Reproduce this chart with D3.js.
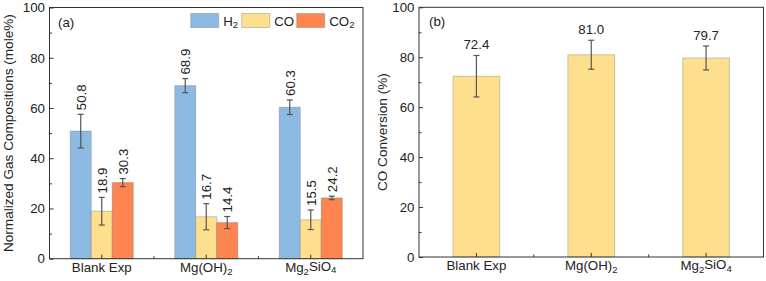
<!DOCTYPE html>
<html>
<head>
<meta charset="utf-8">
<script src="https://cdn.jsdelivr.net/npm/d3@7"></script>
<style>
  html, body { margin: 0; padding: 0; background: #fff; }
  svg { display: block; font-family: "Liberation Sans", Arial, sans-serif; }
</style>
</head>
<body>
<svg id="chart" width="766" height="281"></svg>
<script>
// ---- data ----
const categories = ["Blank Exp", "Mg(OH)2", "Mg2SiO4"];
const seriesNames = ["H2", "CO", "CO2"];
const h2 = [50.8, 68.9, 60.3];
const h2Err = [6.7, 2.8, 2.9];
const co = [18.9, 16.7, 15.5];
const coErr = [5.5, 5.2, 3.9];
const co2 = [30.3, 14.4, 24.2];
const co2Err = [1.6, 2.4, 0.7];
const conversion = [72.4, 81.0, 79.7];
const conversionErr = [8.3, 5.8, 4.8];
const yTicks = [0, 20, 40, 60, 80, 100];
const yMinorTicks = [10, 30, 50, 70, 90];

const colors = { H2: "#8dbae3", CO: "#fedf8d", CO2: "#fe854f" };
const barStroke = "rgba(110,110,110,0.35)";
const axisColor = "#333";
const errColor = "#555";

const svg = d3.select("#chart");

// write a chemical label with subscripts into a text selection
function chemText(sel, s, subSize) {
  const parts = s.match(/([A-Za-z()\s]+|\d+)/g) || [s];
  parts.forEach((p, i) => {
    const isSub = /^\d+$/.test(p) && i > 0;
    const t = sel.append("tspan").text(p);
    if (isSub) {
      t.attr("font-size", subSize).attr("dy", "0.3em");
    } else if (i > 0 && /^\d+$/.test(parts[i - 1])) {
      t.attr("dy", "-0.3em");
    }
  });
}

function drawFrame(g, x0, x1, yScale, xBand) {
  const yTop = yScale.range()[1], yBot = yScale.range()[0];
  const yAxis = d3.axisLeft(yScale).tickValues(yTicks).tickSize(-4).tickPadding(4.5);
  const ya = g.append("g").attr("transform", `translate(${x0},0)`).call(yAxis);
  ya.select(".domain").remove();
  ya.selectAll("line").attr("stroke", axisColor);
  ya.selectAll("text").attr("font-size", 13.3).attr("fill", "#222")
    .attr("font-family", "Liberation Sans, Arial, sans-serif");
  const ym = g.append("g").attr("transform", `translate(${x0},0)`)
    .call(d3.axisLeft(yScale).tickValues(yMinorTicks).tickSize(-2.5).tickFormat(""));
  ym.select(".domain").remove();
  ym.selectAll("line").attr("stroke", axisColor);

  const xa = g.append("g").attr("transform", `translate(0,${yBot})`)
    .call(d3.axisBottom(xBand).tickSize(-4).tickPadding(8).tickFormat(""));
  xa.select(".domain").remove();
  xa.selectAll("line").attr("stroke", axisColor);
  const bounds = categories.slice(1).map(c => xBand(c));
  g.append("g").selectAll("line").data(bounds).join("line")
    .attr("x1", d => d).attr("x2", d => d)
    .attr("y1", yBot).attr("y2", yBot - 2.5)
    .attr("stroke", axisColor);
  categories.forEach(c => {
    const t = g.append("text")
      .attr("x", xBand(c) + xBand.bandwidth() / 2)
      .attr("y", yBot + 13)
      .attr("text-anchor", "middle")
      .attr("font-size", 13.3).attr("fill", "#222");
    chemText(t, c, 9.5);
  });
  g.append("rect")
    .attr("x", x0).attr("y", yTop)
    .attr("width", x1 - x0).attr("height", yBot - yTop)
    .attr("fill", "none").attr("stroke", axisColor).attr("stroke-width", 1);
}

function errorBar(g, cx, yScale, v, e, cap) {
  const top = yScale(v + e), bot = yScale(v - e);
  g.append("line").attr("x1", cx).attr("x2", cx).attr("y1", top).attr("y2", bot)
    .attr("stroke", errColor).attr("stroke-width", 1.2);
  [top, bot].forEach(yy => g.append("line")
    .attr("x1", cx - cap).attr("x2", cx + cap).attr("y1", yy).attr("y2", yy)
    .attr("stroke", errColor).attr("stroke-width", 1.2));
  return top;
}

// ---------------- Panel (a) ----------------
{
  const x0 = 49.5, x1 = 363, yTop = 7.5, yBot = 258.7;
  const g = svg.append("g");
  const x = d3.scaleBand().domain(categories).range([x0, x1]).padding(0);
  const y = d3.scaleLinear().domain([0, 100]).range([yBot, yTop]);
  const groupW = 63;
  const xs = d3.scaleBand().domain(seriesNames).range([0, groupW]).padding(0);
  const vals = { H2: h2, CO: co, CO2: co2 };
  const errs = { H2: h2Err, CO: coErr, CO2: co2Err };

  seriesNames.forEach(s => {
    categories.forEach((c, i) => {
      const bx = x(c) + x.bandwidth() / 2 - groupW / 2 + xs(s);
      g.append("rect")
        .attr("x", bx).attr("y", y(vals[s][i]))
        .attr("width", xs.bandwidth()).attr("height", y(0) - y(vals[s][i]))
        .attr("fill", colors[s]).attr("stroke", barStroke).attr("stroke-width", 1);
    });
  });
  seriesNames.forEach(s => {
    categories.forEach((c, i) => {
      const cx = x(c) + x.bandwidth() / 2 - groupW / 2 + xs(s) + xs.bandwidth() / 2;
      const top = errorBar(g, cx, y, vals[s][i], errs[s][i], 3);
      g.append("text")
        .attr("transform", `translate(${cx},${top - 4}) rotate(-90)`)
        .attr("dy", "0.36em")
        .attr("text-anchor", "start")
        .attr("font-size", 13.3).attr("fill", "#222")
        .text(vals[s][i].toFixed(1));
    });
  });

  drawFrame(g, x0, x1, y, x);

  g.append("text")
    .attr("transform", `translate(12.5,${(yTop + yBot) / 2}) rotate(-90)`)
    .attr("text-anchor", "middle").attr("font-size", 13.6).attr("fill", "#222")
    .text("Normalized Gas Compositions (mole%)");
  g.append("text").attr("x", 58).attr("y", 26.5).attr("font-size", 13.3).attr("fill", "#222").text("(a)");

  const legX = [190.7, 241.7, 296.7];
  seriesNames.forEach((s, i) => {
    g.append("rect").attr("x", legX[i]).attr("y", 13.5).attr("width", 28).attr("height", 14)
      .attr("fill", colors[s]).attr("stroke", barStroke);
    const t = g.append("text").attr("x", legX[i] + 32.5).attr("y", 25.5)
      .attr("font-size", 13.3).attr("fill", "#222");
    chemText(t, s, 9.5);
  });
}

// ---------------- Panel (b) ----------------
{
  const x0 = 419, x1 = 763.5, yTop = 7.3, yBot = 257;
  const g = svg.append("g");
  const x = d3.scaleBand().domain(categories).range([x0, x1]).padding(0);
  const y = d3.scaleLinear().domain([0, 100]).range([yBot, yTop]);
  const barW = 46.7;
  categories.forEach((c, i) => {
    const cx = x(c) + x.bandwidth() / 2;
    g.append("rect")
      .attr("x", cx - barW / 2).attr("y", y(conversion[i]))
      .attr("width", barW).attr("height", y(0) - y(conversion[i]))
      .attr("fill", colors.CO).attr("stroke", barStroke).attr("stroke-width", 1);
  });
  categories.forEach((c, i) => {
    const cx = x(c) + x.bandwidth() / 2;
    const top = errorBar(g, cx, y, conversion[i], conversionErr[i], 3);
    g.append("text").attr("x", cx).attr("y", top - 6)
      .attr("text-anchor", "middle").attr("font-size", 13.3).attr("fill", "#222")
      .text(conversion[i].toFixed(1));
  });

  drawFrame(g, x0, x1, y, x);

  g.append("text")
    .attr("transform", `translate(387,${(yTop + yBot) / 2}) rotate(-90)`)
    .attr("text-anchor", "middle").attr("font-size", 13.6).attr("fill", "#222")
    .text("CO Conversion (%)");
  g.append("text").attr("x", 429).attr("y", 25.5).attr("font-size", 13.3).attr("fill", "#222").text("(b)");
}
</script>
</body>
</html>
